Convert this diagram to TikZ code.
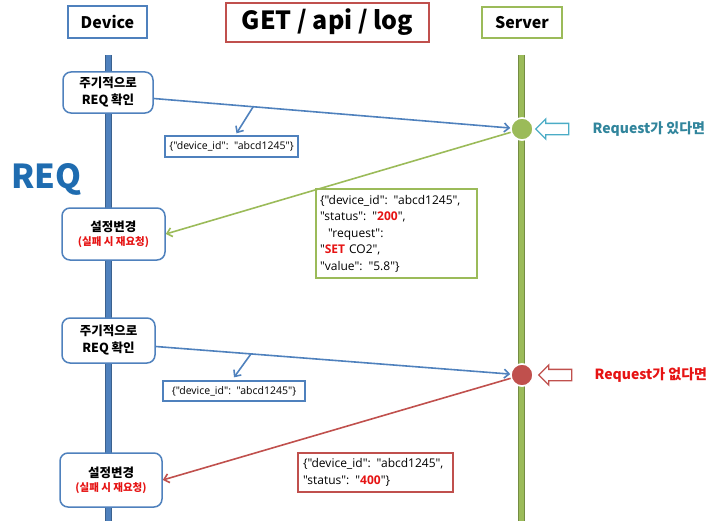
\documentclass[tikz,border=0pt]{standalone}
\usepackage{fontspec}
\setmainfont{Noto Sans CJK KR}
\newfontfamily\jsonfont{Open Sans}
\usetikzlibrary{arrows.meta,shapes.arrows,calc}
\definecolor{devblue}{RGB}{79,129,189}
\definecolor{srvgreen}{RGB}{155,187,89}
\definecolor{errred}{RGB}{192,80,77}
\definecolor{reqblue}{RGB}{31,108,176}
\definecolor{tealtxt}{RGB}{49,133,156}
\definecolor{tealarr}{RGB}{75,172,198}
\definecolor{hotred}{RGB}{230,20,20}
\newcommand{\hl}[1]{\textcolor{hotred}{\textbf{#1}}}
\begin{document}
\begin{tikzpicture}[x=1pt,y=-1pt,
  head/.style={draw,line width=1.5pt,fill=white,inner sep=0pt,font=\fontsize{16}{19}\selectfont\bfseries},
  life/.style={line width=7pt,draw=#1!75!black},
  lifein/.style={line width=5pt,draw=#1},
  devbox/.style={draw=devblue,line width=1.5pt,fill=white,rounded corners=8pt,inner sep=0pt,align=center,font=\fontsize{12.5}{17}\selectfont\bfseries},
  json/.style={draw=#1,line width=1.3pt,fill=white,inner sep=0pt,align=left,font=\jsonfont\fontsize{10.5}{16}\selectfont},
  dot/.style={circle,fill=#1,draw=white,line width=1.5pt,minimum size=22pt,inner sep=0pt},
  hollow/.style={single arrow,shape border rotate=180,draw=#1,line width=1.3pt,fill=white,minimum height=33pt,inner xsep=0pt,inner ysep=5pt,single arrow head extend=4.5pt},
  msg/.style={line width=1.6pt,draw=#1,-{Straight Barb[length=5pt,width=9pt,line width=1.6pt]}},
  lab/.style={anchor=west,font=\fontsize{14}{16}\selectfont\bfseries,text=#1}]
\useasboundingbox (0,0) rectangle (723,527);
% headers
\node[head,draw=devblue,minimum width=79pt,minimum height=32pt] (device) at (107.5,22) {Device};
\node[head,draw=errred,minimum width=203pt,minimum height=39pt,font=\fontsize{25}{28}\selectfont\bfseries] (title) at (327.5,22.5) {GET / api / log};
\node[head,draw=srvgreen,minimum width=80pt,minimum height=31pt] (server) at (522,22.5) {Server};
% lifelines
\coordinate (devtop) at (108,55);
\coordinate (devbot) at (108,521);
\coordinate (srvtop) at (521,55);
\coordinate (srvbot) at (521,521);
\draw[life=devblue] (devtop) -- (devbot);
\draw[lifein=devblue] (devtop) -- (devbot);
\draw[life=srvgreen] (srvtop) -- (srvbot);
\draw[lifein=srvgreen] (srvtop) -- (srvbot);
\node[anchor=base west,text=reqblue,font=\fontsize{33}{36}\selectfont\bfseries,inner sep=0pt] (req) at (11,188) {REQ};
% device side boxes
\node[devbox,minimum width=90pt,minimum height=41pt] (poll1) at (108,92.5) {주기적으로\\REQ 확인};
\node[devbox,minimum width=103pt,minimum height=52pt] (set1) at (113.5,234) {설정변경\\[-3pt]{\fontsize{10.5}{12}\selectfont\color{hotred}(실패 시 재요청)}};
\node[devbox,minimum width=93pt,minimum height=45pt] (poll2) at (108.5,340.5) {주기적으로\\REQ 확인};
\node[devbox,minimum width=102pt,minimum height=54pt] (set2) at (111,480) {설정변경\\[-3pt]{\fontsize{10.5}{12}\selectfont\color{hotred}(실패 시 재요청)}};
% server side
\node[dot=srvgreen] (hit1) at (522,129) {};
\node[dot=errred] (hit2) at (522,375) {};
\node[hollow=tealarr] (point1) at (555,129) {};
\node[hollow=errred] (point2) at (558,375) {};
\node[lab=tealtxt] (yes) at (589,129) {Request가 있다면};
\node[lab=hotred] (no) at (591,375) {Request가 없다면};
% payloads
\node[json=devblue,minimum width=133pt,minimum height=21pt,align=center] (json1) at (231.5,146.5) {\{"device\_id":\ \ "abcd1245"\}};
\node[json=srvgreen,minimum width=161pt,minimum height=89pt,font=\jsonfont\fontsize{12}{16.5}\selectfont,text width=153pt] (json2) at (396.5,233.5) {\{"device\_id": "abcd1245",\\"status": "\hl{200}",\\\ \ "request":\\"\hl{SET} CO2",\\"value": "5.8"\}};
\node[json=devblue,minimum width=142pt,minimum height=20pt,align=center] (json3) at (234,391) {\{"device\_id":\ \ "abcd1245"\}};
\node[json=errred,minimum width=155pt,minimum height=39pt,font=\jsonfont\fontsize{12}{16.5}\selectfont,text width=145pt] (json4) at (375.5,472.5) {\{"device\_id": "abcd1245",\\"status": "\hl{400}"\}};
% messages
\draw[msg=devblue] ([yshift=-6pt]poll1.east) -- (hit1);
\draw[msg=srvgreen] (hit1) -- (set1.east);
\draw[msg=devblue] ([yshift=-6pt]poll2.east) -- (hit2);
\draw[msg=errred] (hit2) -- (set2.east);
\coordinate (tap1) at ($([yshift=-6pt]poll1.east)!0.27!(hit1)$);
\coordinate (tap2) at ($([yshift=-6pt]poll2.east)!0.26!(hit2)$);
\draw[msg=devblue] (tap1) -- ([xshift=5pt,yshift=2pt]json1.north);
\draw[msg=devblue] (tap2) -- ([yshift=3pt]json3.north);
\node[dot=srvgreen] at (hit1) {};
\node[dot=errred] at (hit2) {};
\end{tikzpicture}
\end{document}
